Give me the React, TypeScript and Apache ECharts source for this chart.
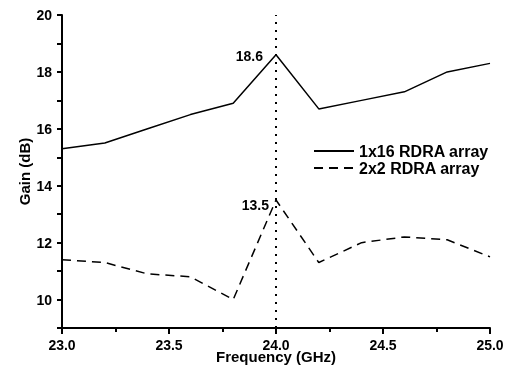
import React, { useEffect, useRef } from "react";
import * as echarts from "echarts";

const freqs = [23.0, 23.2, 23.4, 23.6, 23.8, 24.0, 24.2, 24.4, 24.6, 24.8, 25.0];
const gain1x16 = [15.3, 15.5, 16.0, 16.5, 16.9, 18.6, 16.7, 17.0, 17.3, 18.0, 18.3];
const gain2x2 = [11.4, 11.3, 10.9, 10.8, 10.0, 13.5, 11.3, 12.0, 12.2, 12.1, 11.5];
const seriesNames = ["1x16 RDRA array", "2x2 RDRA array"];
const markFreq = 24.0;

const FONT = "Liberation Sans, Arial, sans-serif";
const INK = "black";

export default function App() {
  const ref = useRef<HTMLDivElement>(null);
  useEffect(() => {
    if (!ref.current) return;
    const chart = echarts.init(ref.current, undefined, { renderer: "svg" });
    const peakIdx = freqs.indexOf(markFreq);
    const toData = (vals: number[]) => vals.map((v, i) => [freqs[i], v]);
    const peakMark = (vals: number[], dist: number, off: number[]) => ({
      silent: true,
      symbolSize: 0,
      label: {
        show: true,
        position: "left",
        distance: dist,
        offset: off,
        color: INK,
        fontFamily: FONT,
        fontWeight: "bold",
        fontSize: 14,
        formatter: (p: any) => String(p.value),
      },
      data: [{ coord: [freqs[peakIdx], vals[peakIdx]], value: vals[peakIdx] }],
    });
    chart.setOption({
      animation: false,
      grid: { left: 62, right: 21, top: 15, bottom: 42, outerBoundsMode: "none" },
      legend: {
        orient: "vertical",
        left: 308,
        top: 138,
        itemWidth: 40,
        itemHeight: 14,
        itemGap: 1,
        itemStyle: { opacity: 0 },
        textStyle: { color: INK, fontFamily: FONT, fontWeight: "bold", fontSize: 16 },
        data: seriesNames,
      },
      xAxis: {
        type: "value",
        min: 23,
        max: 25,
        interval: 0.5,
        name: "Frequency (GHz)",
        nameLocation: "middle",
        nameGap: 21,
        nameMoveOverlap: false,
        nameTextStyle: { color: INK, fontFamily: FONT, fontWeight: "bold", fontSize: 15 },
        axisLine: { show: true, lineStyle: { color: INK, width: 2 } },
        axisTick: { show: true, length: 6, lineStyle: { color: INK, width: 2 } },
        minorTick: { show: true, splitNumber: 2, length: 4, lineStyle: { color: INK, width: 2 } },
        axisLabel: {
          color: INK,
          fontSize: 14,
          fontFamily: FONT,
          fontWeight: "bold",
          margin: 10,
          formatter: (v: number) => v.toFixed(1),
        },
        splitLine: { show: false },
      },
      yAxis: {
        type: "value",
        min: 9,
        max: 20,
        interval: 1,
        name: "Gain (dB)",
        nameLocation: "middle",
        nameGap: 30,
        nameMoveOverlap: false,
        nameRotate: 90,
        nameTextStyle: { color: INK, fontFamily: FONT, fontWeight: "bold", fontSize: 15 },
        axisLine: { show: true, lineStyle: { color: INK, width: 2 } },
        axisTick: { show: true, length: 5, lineStyle: { color: INK, width: 2 } },
        axisLabel: {
          color: INK,
          fontSize: 14,
          fontFamily: FONT,
          fontWeight: "bold",
          margin: 10,
          formatter: (v: number) => (v % 2 === 0 ? String(v) : ""),
        },
        splitLine: { show: false },
      },
      series: [
        {
          name: seriesNames[0],
          type: "line",
          symbol: "none",
          data: toData(gain1x16),
          lineStyle: { color: INK, width: 1.5, type: "solid" },
          itemStyle: { color: INK },
          markPoint: peakMark(gain1x16, 13, [0, 1]),
          markLine: {
            silent: true,
            symbol: "none",
            label: { show: false },
            lineStyle: { color: INK, width: 2, type: [2, 6] },
            data: [{ xAxis: markFreq }],
          },
        },
        {
          name: seriesNames[1],
          type: "line",
          symbol: "none",
          data: toData(gain2x2),
          lineStyle: { color: INK, width: 1.5, type: [9, 6] },
          itemStyle: { color: INK },
          markPoint: peakMark(gain2x2, 7, [0, 5]),
        },
      ],
    });
    return () => chart.dispose();
  }, []);
  return <div ref={ref} style={{ position: "fixed", left: 0, top: 0, width: 511, height: 370 }} />;
}
